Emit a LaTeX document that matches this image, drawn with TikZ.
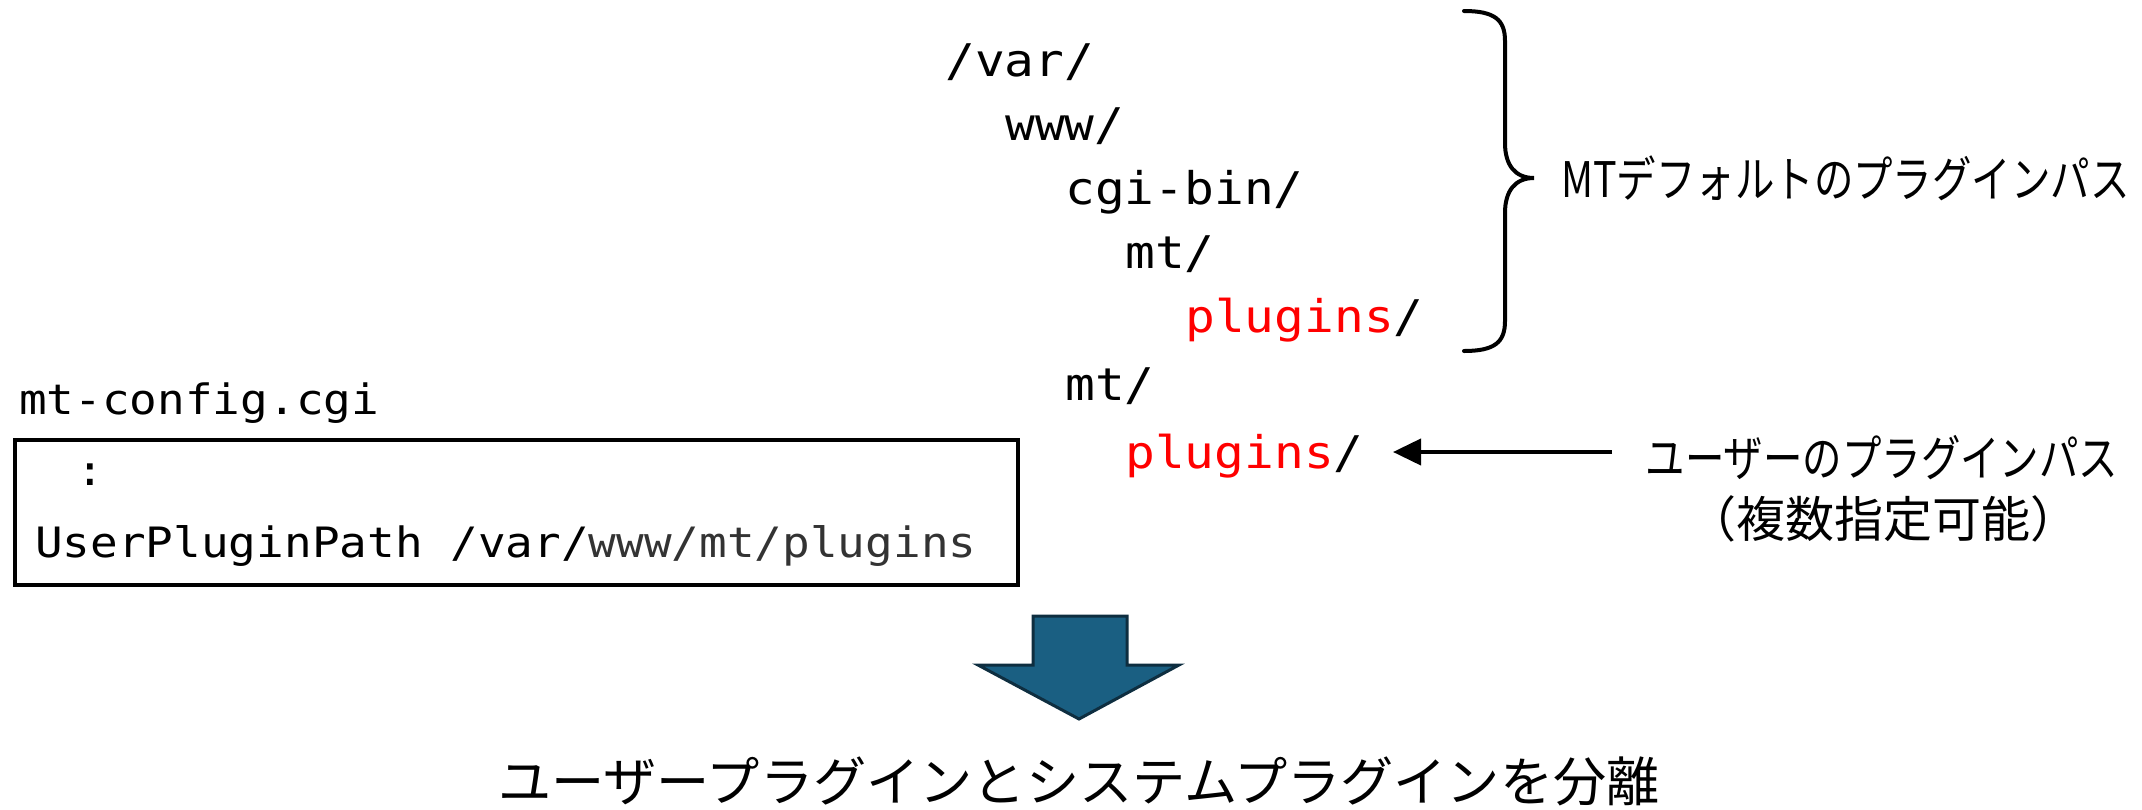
\documentclass[tikz,border=0pt]{standalone}
\usepackage{fontspec}
\usetikzlibrary{arrows.meta}
\setmonofont[FakeStretch=1.1]{DejaVu Sans Mono}
\newfontfamily\jp[FakeStretch=0.805]{Noto Sans CJK JP}
\newfontfamily\jpt{Noto Sans CJK JP}
\definecolor{arrfill}{HTML}{1A5F82}
\definecolor{arrline}{HTML}{0E2E40}
\definecolor{pathgray}{HTML}{333333}
\tikzset{
  tree/.style={anchor=base west, inner sep=0pt, font=\ttfamily\fontsize{45}{54}\selectfont},
  conf/.style={anchor=base west, inner sep=0pt, font=\ttfamily\fontsize{41.8}{50}\selectfont},
  lab/.style={inner sep=0pt, font=\jp\fontsize{49}{58}\selectfont},
  labk/.style={inner sep=0pt, font=\jpt\fontsize{49}{58}\selectfont},
  ttl/.style={inner sep=0pt, font=\jpt\fontsize{53.2}{62}\selectfont},
  bracepath/.style={line width=4pt, line cap=round},
  arr/.style={line width=4pt, -{Triangle[length=28pt,width=26pt]}},
  bigarrow/.style={fill=arrfill, draw=arrline, line width=3pt, line join=miter}
}
\begin{document}
\begin{tikzpicture}[x=1pt,y=-1pt]
\useasboundingbox (0,0) rectangle (2142,809);
% tree
\node[tree] (var) at (945,76) {/var/};
\node[tree] (www) at (1005,140) {www/};
\node[tree] (cgi) at (1065,204) {cgi-bin/};
\node[tree] (mt1) at (1125,268) {mt/};
\node[tree] (p1) at (1185,332) {\textcolor{red}{plugins}/};
\node[tree] (mt2) at (1065,400) {mt/};
\node[tree] (p2) at (1125,468) {\textcolor{red}{plugins}/};
% brace
\draw[bracepath] (1464,11) .. controls (1495,11) and (1505,20) .. (1505,41) -- (1505,143)
  .. controls (1505,165) and (1515,178) .. (1534,178)
  .. controls (1515,178) and (1505,191) .. (1505,213) -- (1505,321)
  .. controls (1505,342) and (1495,351) .. (1464,351);
\node[lab, anchor=west] (mtlab) at (1561,178) {MTデフォルトのプラグインパス};
% user plugin label
\node[lab] (ul1) at (1882,458) {ユーザーのプラグインパス};
\node[labk] (ul2) at (1883,519) {（複数指定可能）};
\coordinate (atail) at (1612,452);
\coordinate (ahead) at (1393,452);
\draw[arr] (atail) -- (ahead);
% config
\node[conf] (cfgname) at (19,414) {mt-config.cgi};
\draw[line width=3.5pt] (15,440) rectangle (1018,585);
\node[conf, anchor=base] (dots) at (90,485) {:};
\node[conf] (cfgline) at (35,557) {UserPluginPath /var/\textcolor{pathgray}{www/mt/plugins}};
% big arrow
\draw[bigarrow] (1033,616) -- (1127,616) -- (1127,665) -- (1179,665) -- (1079,719) -- (978,665) -- (1033,665) -- cycle;
\node[ttl] (title) at (1079,781) {ユーザープラグインとシステムプラグインを分離};
\end{tikzpicture}
\end{document}
